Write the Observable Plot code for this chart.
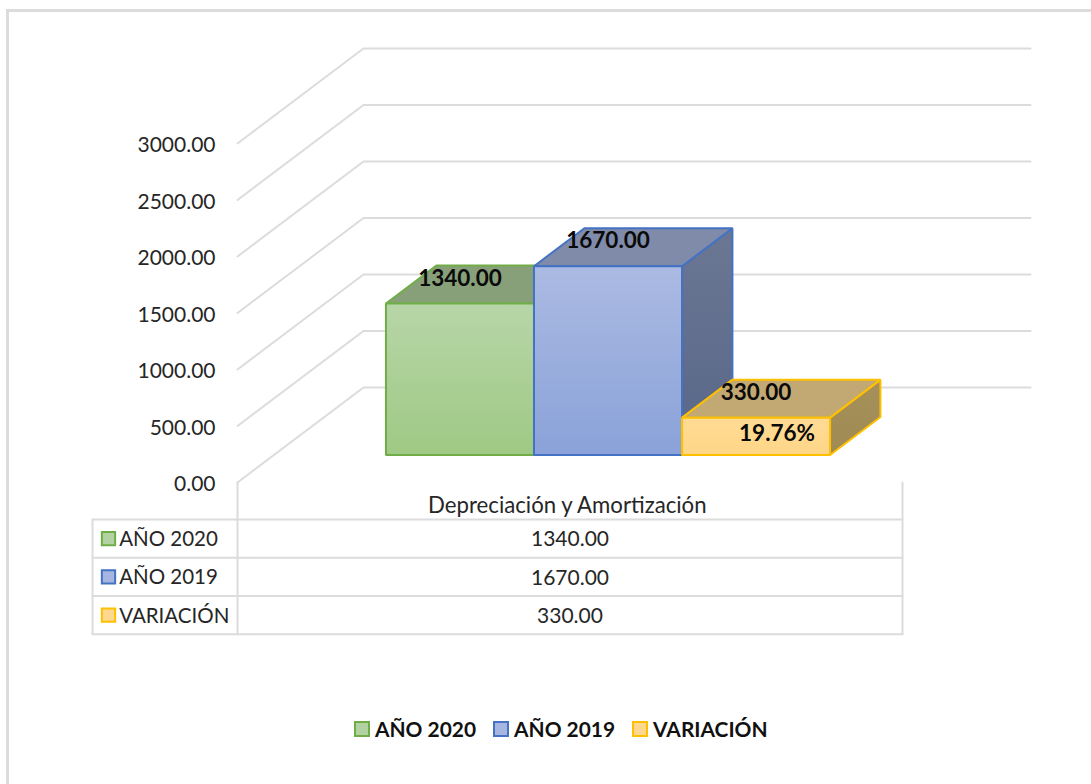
<!DOCTYPE html>
<html lang="es">
<head>
<meta charset="utf-8">
<title>Depreciación y Amortización</title>
<script src="https://cdn.jsdelivr.net/npm/d3@7"></script>
<script src="https://cdn.jsdelivr.net/npm/@observablehq/plot@0.6"></script>
<style>
  html, body { margin: 0; padding: 0; background: #fff; overflow: hidden; }
  #page { position: relative; width: 1091px; height: 784px; font-family: Lato, sans-serif; }
  #card { position: absolute; left: 6px; top: 9px; right: 0; bottom: 0;
          border-top: 3px solid #dcdcdc; border-left: 3px solid #dcdcdc; pointer-events: none; }
  #chart svg { display: block; }
  #legend { position: absolute; left: 354px; top: 716px; display: flex; align-items: center;
            font-size: 20.9px; font-weight: 700; color: #111; line-height: 26px; white-space: nowrap; }
  .item { display: flex; align-items: center; margin-right: 17px; }
  .swatch { width: 12px; height: 12px; border: 2px solid; margin-right: 5px; box-sizing: content-box; }
</style>
</head>
<body>
<div id="page">
  <div id="card"></div>
  <div id="chart"></div>
  <div id="legend"></div>
</div>
<script>
// Data
const category = "Depreciación y Amortización";
const seriesNames = ["AÑO 2020", "AÑO 2019", "VARIACIÓN"];
const seriesValues = [1340, 1670, 330];
const variationPercent = "19.76%";
const yTicks = [0, 500, 1000, 1500, 2000, 2500, 3000];

// Colours
const strokes = ["#70ad47", "#4472c4", "#ffc000"];
const frontTop = ["#b7d6a8", "#abbae2", "#ffdb95"];
const frontBottom = ["#9fc984", "#8aa2d9", "#ffd687"];
const topFaces = ["#87a07a", "#808baa", "#c2a873"];
const sideTop = ["#6b7a5e", "#6b7792", "#a79159"];
const sideBottom = ["#6b7a5e", "#586689", "#a08a55"];
const swatchFill = ["#b3d2a2", "#a6b6e0", "#ffd88f"];
const gridColor = "#dcdcdc";
const textColor = "#262626";

// 3D projection, in the units of the x (category width) and y (value) scales
const wallX = 0.1895, wallY = 841, wallRight = 1.1925;
const floorDepth = 0.29, barDepth = 0.40;
const barStart = 0.1683, barWidth = 0.2226;
const project = (x, v, d) => ({x: x + d * wallX, y: v + d * wallY});

// Table geometry, same units
const tableLeft = -0.218, swatchX = -0.194, labelX = -0.178;
const tableTop = -327, rowStep = 339, headerY = -203;
const rowY = (i) => tableTop - (i + 0.5) * rowStep;
const lineY = (i) => tableTop - i * rowStep;

const fmt = (d) => d.toFixed(2);

const grid = yTicks.flatMap((v) => [
  {k: v, ...project(0, v, 0)},
  {k: v, ...project(0, v, 1)},
  {k: v, x: wallRight, y: v + wallY}
]);

const tableLines = [
  ...d3.range(4).flatMap((i) => [{k: "h" + i, x: tableLeft, y: lineY(i)}, {k: "h" + i, x: 1, y: lineY(i)}]),
  {k: "vl", x: tableLeft, y: lineY(0)}, {k: "vl", x: tableLeft, y: lineY(3)},
  {k: "v0", x: 0, y: 0}, {k: "v0", x: 0, y: lineY(3)},
  {k: "v1", x: 1, y: 0}, {k: "v1", x: 1, y: lineY(3)}
];

function barMarks(i) {
  const v = seriesValues[i];
  const x0 = barStart + i * barWidth, x1 = x0 + barWidth;
  const d0 = floorDepth, d1 = floorDepth + barDepth;
  const front = [project(x0, 0, d0), project(x1, 0, d0), project(x1, v, d0), project(x0, v, d0)];
  const top = [project(x0, v, d0), project(x1, v, d0), project(x1, v, d1), project(x0, v, d1)];
  const side = [project(x1, 0, d0), project(x1, 0, d1), project(x1, v, d1), project(x1, v, d0)];
  const face = (pts, fill) => Plot.line(pts, {
    x: "x", y: "y", fill, stroke: strokes[i], strokeWidth: 2, curve: "linear-closed", strokeLinejoin: "miter"
  });
  return [face(side, `url(#side${i})`), face(top, topFaces[i]), face(front, `url(#front${i})`)];
}

const barLabels = seriesValues.map((v, i) => ({
  label: fmt(v), ...project(barStart + (i + 0.5) * barWidth, v, floorDepth)
}));
const yellowFront = project(barStart + 2.5 * barWidth, seriesValues[2], floorDepth);

const defs = () => {
  const el = d3.create("svg:defs");
  const add = (id, a, b) => {
    const g = el.append("linearGradient").attr("id", id).attr("x1", 0).attr("y1", 0).attr("x2", 0).attr("y2", 1);
    g.append("stop").attr("offset", "0%").attr("stop-color", a);
    g.append("stop").attr("offset", "100%").attr("stop-color", b);
  };
  seriesNames.forEach((_, i) => {
    add(`front${i}`, frontTop[i], frontBottom[i]);
    add(`side${i}`, sideTop[i], sideBottom[i]);
  });
  return el.node();
};

const chart = Plot.plot({
  width: 1091,
  height: 700,
  marginLeft: 237,
  marginRight: 189,
  marginTop: 143,
  marginBottom: 218,
  style: {fontFamily: "Lato, sans-serif", background: "transparent", overflow: "visible"},
  x: {domain: [0, 1], axis: null},
  y: {domain: [0, 3000], axis: null},
  marks: [
    defs,
    Plot.line(grid, {x: "x", y: "y", z: "k", stroke: gridColor, strokeWidth: 2}),
    Plot.line(tableLines, {x: "x", y: "y", z: "k", stroke: gridColor, strokeWidth: 2}),
    Plot.axisY({
      ticks: yTicks, tickFormat: fmt, tickSize: 0, tickPadding: 22, label: null, dy: 2,
      fontSize: 21, color: textColor, fill: textColor
    }),
    ...seriesNames.flatMap((_, i) => barMarks(i)),
    Plot.text(barLabels, {
      x: "x", y: "y", text: "label", dy: -25, fontSize: 22.5, fontWeight: 700, fill: "#0a0a0a"
    }),
    Plot.text([variationPercent], {
      x: yellowFront.x, y: yellowFront.y, text: (d) => d, dx: 21, dy: 16, fontSize: 22.5, fontWeight: 700, fill: "#0a0a0a"
    }),
    Plot.text([category], {
      x: 0.496, y: headerY, text: (d) => d, fontSize: 22.2, fill: textColor
    }),
    Plot.text(seriesValues, {
      x: 0.5, y: (d, i) => rowY(i), text: (d) => fmt(d), dy: 1, fontSize: 21, fill: textColor
    }),
    Plot.text(seriesNames, {
      x: labelX, y: (d, i) => rowY(i), text: (d) => d, dy: 1, textAnchor: "start", fontSize: 20.5, fill: textColor
    }),
    Plot.dot(seriesNames, {
      x: swatchX, y: (d, i) => rowY(i), symbol: "square", r: 7.5,
      fill: (d, i) => swatchFill[i], stroke: (d, i) => strokes[i], strokeWidth: 2
    })
  ]
});
document.getElementById("chart").appendChild(chart);

const legend = document.getElementById("legend");
seriesNames.forEach((name, i) => {
  const item = document.createElement("div");
  item.className = "item";
  const sw = document.createElement("span");
  sw.className = "swatch";
  sw.style.background = swatchFill[i];
  sw.style.borderColor = strokes[i];
  item.appendChild(sw);
  item.appendChild(document.createTextNode(name));
  legend.appendChild(item);
});
</script>
</body>
</html>
